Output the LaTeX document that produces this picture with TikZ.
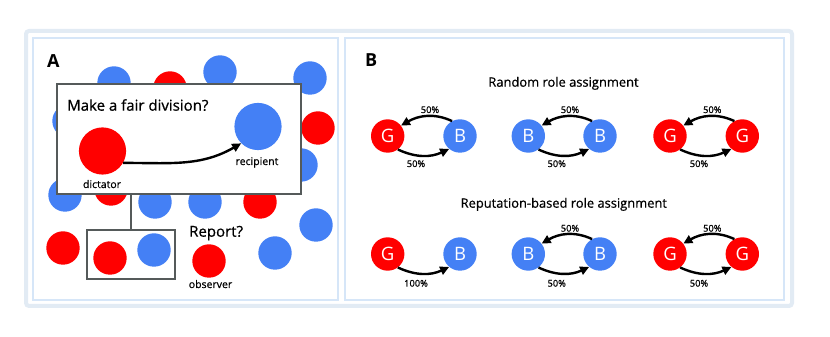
\documentclass[tikz,border=0pt]{standalone}
\usepackage{fontspec}
\setmainfont{Open Sans}
\newfontfamily\medfont{Open Sans}[FakeBold=0.7]
\usetikzlibrary{arrows.meta}
\definecolor{cred}{RGB}{255,0,0}
\definecolor{cblue}{RGB}{68,128,245}
\definecolor{boxgray}{RGB}{85,90,90}
\definecolor{panelblue}{RGB}{214,230,248}
\definecolor{framecol}{RGB}{226,235,244}
\begin{document}
\begin{tikzpicture}[x=1pt,y=1pt,
  dot/.style={circle, minimum size=33.4pt, inner sep=0pt},
  rdot/.style={dot, fill=cred},
  bdot/.style={dot, fill=cblue},
  bigdot/.style={circle, minimum size=47.2pt, inner sep=0pt},
  gb/.style={text=white, font=\fontsize{18.5}{18}\selectfont},
  lbl/.style={inner sep=0pt, font=\medfont\fontsize{10.5}{12}\selectfont},
  pct/.style={inner sep=0pt, font=\medfont\fontsize{9.3}{10}\selectfont},
  ttl/.style={inner sep=0pt, font=\medfont\fontsize{12.9}{15}\selectfont},
  big/.style={inner sep=0pt, font=\medfont\fontsize{15}{17}\selectfont},
  panellbl/.style={inner sep=0pt, font=\fontsize{18}{20}\selectfont\bfseries},
  arr/.style={line width=2.4pt, -{Triangle[length=9pt,width=8.5pt]}},
  graybox/.style={draw=boxgray, line width=1.8pt},
  panel/.style={draw=panelblue, line width=2pt}
]
\useasboundingbox (0,0) rectangle (830,337);
% frame and panels
\draw[framecol, line width=4pt, rounded corners=3pt] (26,31) rectangle (792,306);
\draw[panel] (33,37) rectangle (338,299);
\draw[panel] (345,37) rectangle (784,299);

% ---------- Panel A ----------
\node[panellbl, anchor=base west] (lA) at (47,269) {A};
% background population
\node[bdot] (b1) at (114,254) {};
\node[rdot] (r2) at (170,249) {};
\node[bdot] (b3) at (220,265) {};
\node[bdot] (b4) at (310,259) {};
\node[bdot] (b5) at (69,216) {};
\node[rdot] (r6) at (318,209) {};
\node[bdot] (b7) at (301,172) {};
\node[bdot] (b8) at (65,142) {};
\node[rdot] (r9) at (111,148) {};
\node[bdot] (b10) at (155,135) {};
\node[bdot] (b11) at (205,135) {};
\node[rdot] (r12) at (260,135) {};
\node[bdot] (b13) at (316,112) {};
\node[rdot] (r14) at (63,89) {};
\node[bdot] (b15) at (275,84) {};

% main box
\path[graybox, fill=white] (57,253) rectangle (301,143);
\coordinate (boxbot) at (131,143);
\coordinate (smalltop) at (131,107);
\draw[boxgray, line width=1.8pt] (boxbot) -- (smalltop);
\path[graybox, fill=white] (87,107) rectangle (175,58);

\node[big, anchor=base west] (q1) at (67,226.3) {Make a fair division?};
\node[bigdot, fill=cred] (dict) at (102.5,186) {};
\node[bigdot, fill=cblue] (recip) at (258,210.5) {};
\node[lbl, anchor=base] (tdict) at (102,149) {dictator};
\node[lbl, anchor=base] (trecip) at (257,172) {recipient};
\draw[arr] (dict.-30) to[out=0,in=-150] (recip.-135);

\node[rdot] (sr) at (110,79) {};
\node[bdot] (sb) at (154,87) {};
\node[rdot] (obs) at (209,76) {};
\node[big, anchor=base west] (q2) at (189,100.3) {Report?};
\node[lbl, anchor=base] (tobs) at (210.5,49) {observer};

% ---------- Panel B ----------
\node[panellbl, anchor=base west] (lB) at (365,270) {B};
\node[ttl, anchor=base] (t1) at (563.5,250.3) {Random role assignment};
\node[ttl, anchor=base] (t2) at (563.8,129.3) {Reputation-based role assignment};

% row 1
\node[rdot, gb] (G1) at (387.7,201) {G};
\node[bdot, gb] (B1) at (460,201) {B};
\node[bdot, gb] (B2) at (528.3,201) {B};
\node[bdot, gb] (B3) at (600,201) {B};
\node[rdot, gb] (G2) at (670,201) {G};
\node[rdot, gb] (G3) at (742.3,201) {G};
% row 2
\node[rdot, gb] (G4) at (387.7,83) {G};
\node[bdot, gb] (B4) at (460,83) {B};
\node[bdot, gb] (B5) at (528.3,83) {B};
\node[bdot, gb] (B6) at (600,83) {B};
\node[rdot, gb] (G5) at (670,83) {G};
\node[rdot, gb] (G6) at (742.3,83) {G};

% arrows row 1
\draw[arr] (B1.118) to[out=155,in=30] (G1.38);
\draw[arr] (G1.-53) to[out=-25,in=-155] (B1.-130);
\draw[arr] (B3.118) to[out=155,in=30] (B2.38);
\draw[arr] (B2.-53) to[out=-25,in=-155] (B3.-130);
\draw[arr] (G3.118) to[out=155,in=30] (G2.38);
\draw[arr] (G2.-53) to[out=-25,in=-155] (G3.-130);
% arrows row 2
\draw[arr] (G4.-53) to[out=-25,in=-155] (B4.-130);
\draw[arr] (B6.118) to[out=155,in=30] (B5.38);
\draw[arr] (B5.-53) to[out=-25,in=-155] (B6.-130);
\draw[arr] (G6.118) to[out=155,in=30] (G5.38);
\draw[arr] (G5.-53) to[out=-25,in=-155] (G6.-130);

% percentages row 1
\node[pct] (p1) at (430,227.3) {50\%};
\node[pct] (p2) at (416,173.3) {50\%};
\node[pct] (p3) at (570,227.3) {50\%};
\node[pct] (p4) at (556.7,173.3) {50\%};
\node[pct] (p5) at (712.3,227.3) {50\%};
\node[pct] (p6) at (699,173.3) {50\%};
% percentages row 2
\node[pct] (p7) at (416,53.7) {100\%};
\node[pct] (p8) at (570,108.7) {50\%};
\node[pct] (p9) at (556.7,53.7) {50\%};
\node[pct] (p10) at (712.3,108.7) {50\%};
\node[pct] (p11) at (699,53.7) {50\%};
\end{tikzpicture}
\end{document}
